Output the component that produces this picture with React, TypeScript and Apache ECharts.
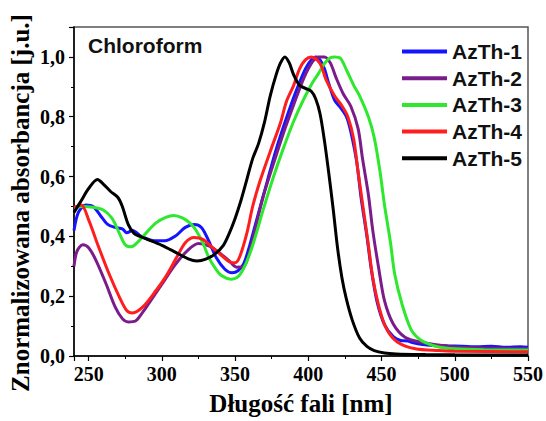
import React, { useEffect, useRef } from "react";
import * as echarts from "echarts";

const seriesNames = ["AzTh-1", "AzTh-2", "AzTh-3", "AzTh-4", "AzTh-5"];
const seriesColors = ["#1414ff", "#7b1c8c", "#2ee82e", "#ff1e1e", "#000000"];

const xTicks = [250, 300, 350, 400, 450, 500, 550];
const yTicks = [0, 0.2, 0.4, 0.6, 0.8, 1.0];

const azth1: number[][] = [
  [240, 0.42], [243, 0.48], [248, 0.505], [253, 0.5], [258, 0.47], [263, 0.44], [268, 0.43],
  [273, 0.425], [276, 0.412], [280, 0.42], [286, 0.4], [295, 0.385], [302, 0.385], [309, 0.4],
  [316, 0.43], [322, 0.44], [327, 0.43], [332, 0.385], [337, 0.33], [343, 0.29], [348, 0.278],
  [352, 0.285], [356, 0.31], [360, 0.37], [365, 0.46], [372, 0.585], [378, 0.69], [385, 0.795],
  [392, 0.89], [398, 0.96], [402, 0.99], [405, 1.0], [408, 0.99], [411, 0.96], [414, 0.91],
  [418, 0.855], [422, 0.83], [426, 0.8], [429, 0.75], [433, 0.65], [436, 0.53], [440, 0.4],
  [443, 0.29], [447, 0.18], [452, 0.105], [458, 0.065], [463, 0.052], [468, 0.05], [471, 0.045],
  [478, 0.038], [485, 0.035], [495, 0.034], [505, 0.033], [515, 0.031], [525, 0.033],
  [535, 0.029], [545, 0.031], [550, 0.029],
];

const azth2: number[][] = [
  [240, 0.3], [242, 0.35], [246, 0.372], [250, 0.362], [255, 0.32], [262, 0.24], [268, 0.165],
  [273, 0.125], [277, 0.114], [282, 0.117], [286, 0.14], [291, 0.175], [300, 0.24], [309, 0.305],
  [318, 0.355], [325, 0.376], [332, 0.368], [339, 0.346], [346, 0.318], [351, 0.297], [356, 0.3],
  [360, 0.35], [364, 0.43], [369, 0.53], [376, 0.64], [383, 0.745], [390, 0.84], [397, 0.93],
  [403, 0.985], [407, 1.0], [411, 1.0], [415, 0.98], [419, 0.93], [424, 0.875], [429, 0.835],
  [434, 0.76], [437, 0.66], [441, 0.54], [444, 0.42], [448, 0.295], [452, 0.185], [458, 0.107],
  [466, 0.063], [477, 0.046], [490, 0.036], [500, 0.03], [520, 0.027], [550, 0.024],
];

const azth3: number[][] = [
  [240, 0.495], [246, 0.5], [253, 0.497], [260, 0.488], [266, 0.46], [271, 0.41], [275, 0.372],
  [279, 0.365], [283, 0.378], [289, 0.41], [296, 0.445], [303, 0.464], [308, 0.47], [314, 0.462],
  [319, 0.445], [323, 0.423], [328, 0.378], [332, 0.33], [337, 0.29], [341, 0.268], [347, 0.257],
  [352, 0.265], [357, 0.305], [362, 0.37], [369, 0.486], [376, 0.596], [383, 0.695], [390, 0.785],
  [397, 0.86], [403, 0.915], [407, 0.945], [411, 0.978], [415, 0.997], [418, 1.0], [422, 0.995],
  [426, 0.957], [431, 0.905], [435, 0.87], [441, 0.8], [445, 0.73], [449, 0.615], [452, 0.505],
  [456, 0.383], [459, 0.273], [464, 0.173], [470, 0.09], [475, 0.06], [480, 0.045], [489, 0.03],
  [500, 0.024], [520, 0.021], [550, 0.02],
];

const azth4: number[][] = [
  [240, 0.497], [245, 0.505], [250, 0.455], [257, 0.362], [264, 0.274], [271, 0.197],
  [276, 0.152], [280, 0.144], [287, 0.164], [296, 0.219], [303, 0.268], [310, 0.329],
  [316, 0.379], [322, 0.396], [328, 0.39], [334, 0.365], [341, 0.335], [347, 0.313], [350, 0.312],
  [353, 0.33], [358, 0.41], [362, 0.5], [367, 0.585], [374, 0.684], [381, 0.78], [385, 0.85],
  [390, 0.905], [394, 0.96], [398, 0.99], [402, 1.0], [406, 0.99], [409, 0.968], [412, 0.925],
  [418, 0.869], [423, 0.836], [427, 0.8], [431, 0.725], [434, 0.615], [437.5, 0.493],
  [441, 0.372], [444, 0.262], [449, 0.151], [454, 0.085], [461, 0.046], [473, 0.024],
  [489, 0.018], [500, 0.016], [550, 0.014],
];

const azth5: number[][] = [
  [240, 0.48], [245, 0.52], [250, 0.56], [256, 0.59], [260, 0.575], [265, 0.55], [270, 0.53],
  [273, 0.5], [277, 0.44], [281, 0.41], [285, 0.4], [290, 0.39], [300, 0.37], [310, 0.345],
  [318, 0.325], [324, 0.318], [330, 0.324], [336, 0.34], [342, 0.37], [346, 0.41], [350, 0.46],
  [354, 0.52], [358, 0.59], [362, 0.66], [366, 0.71], [370, 0.78], [374, 0.87], [378, 0.94],
  [381, 0.98], [384, 1.0], [387, 0.98], [390, 0.94], [394, 0.905], [398, 0.895], [402, 0.885],
  [405, 0.86], [408, 0.81], [411, 0.72], [414, 0.61], [417, 0.49], [420, 0.36], [423, 0.26],
  [426, 0.19], [430, 0.12], [435, 0.06], [440, 0.032], [445, 0.018], [452, 0.01], [460, 0.007],
  [480, 0.005], [500, 0.004], [550, 0.003],
];

const seriesData = [azth1, azth2, azth3, azth4, azth5];

export default function App() {
  const ref = useRef<HTMLDivElement>(null);
  useEffect(() => {
    if (!ref.current) return;
    const chart = echarts.init(ref.current, undefined, { renderer: "svg" });
    const serif = "Liberation Serif, Times New Roman, serif";
    const sans = "Liberation Sans, Arial, sans-serif";
    const fmt = (v: number) => v.toFixed(1).replace(".", ",");
    chart.setOption({
      animation: false,
      backgroundColor: "#ffffff",
      grid: {
        left: 74, right: 18, top: 27, bottom: 62,
        show: true, borderColor: "#555555", borderWidth: 1.5,
      },
      xAxis: {
        type: "value",
        min: 240,
        max: 550,
        splitNumber: 6,
        name: "Długość fali [nm]",
        nameLocation: "middle",
        nameGap: 35,
        nameTextStyle: { fontFamily: serif, fontWeight: "bold", fontSize: 25, color: "#000" },
        axisLine: { show: true, lineStyle: { color: "#000", width: 1.5 } },
        axisTick: { show: true, inside: false, length: 5, lineStyle: { color: "#000", width: 1.2 } },
        minorTick: { show: true, splitNumber: 2, length: 3, lineStyle: { color: "#000", width: 1 } },
        splitLine: { show: false },
        axisLabel: {
          showMinLabel: false,
          fontFamily: serif, fontWeight: "bold", fontSize: 20, color: "#000", margin: 8,
          formatter: (v: number) => (xTicks.includes(v) ? String(v) : ""),
        },
      },
      yAxis: {
        type: "value",
        min: 0,
        max: 1.1,
        interval: 0.2,
        axisLine: { show: true, lineStyle: { color: "#000", width: 1.5 } },
        axisTick: { show: true, inside: false, length: 5, lineStyle: { color: "#000", width: 1.2 } },
        minorTick: { show: true, splitNumber: 2, length: 3, lineStyle: { color: "#000", width: 1 } },
        splitLine: { show: false },
        axisLabel: {
          showMaxLabel: false,
          fontFamily: serif, fontWeight: "bold", fontSize: 20, color: "#000", margin: 9,
          formatter: (v: number) => (yTicks.some((t) => Math.abs(t - v) < 1e-6) ? fmt(v) : ""),
        },
      },
      legend: {
        data: seriesNames,
        orient: "vertical",
        left: 397,
        top: 36,
        icon: "rect",
        itemWidth: 45,
        itemHeight: 4,
        itemGap: 5.7,
        textStyle: { fontFamily: sans, fontWeight: "bold", fontSize: 21, color: "#111", lineHeight: 21 },
      },
      graphic: [
        {
          type: "text",
          left: 88,
          top: 35,
          style: { text: "Chloroform", font: `bold 21px ${sans}`, fill: "#111" },
        },
        {
          type: "text",
          x: 20,
          y: 203,
          rotation: Math.PI / 2,
          style: {
            text: "Znormalizowana absorbancja [j.u.]",
            font: `bold 25px ${serif}`,
            fill: "#000",
            align: "center",
            verticalAlign: "middle",
          },
        },
      ],
      series: seriesNames.map((name, i) => ({
        name,
        type: "line",
        data: seriesData[i],
        showSymbol: false,
        smooth: 0.3,
        lineStyle: { color: seriesColors[i], width: 3 },
        itemStyle: { color: seriesColors[i] },
        z: 2 + i,
      })),
    });
    return () => chart.dispose();
  }, []);
  return (
    <div
      ref={ref}
      style={{ position: "fixed", left: 0, top: 0, width: 546, height: 421, background: "#fff" }}
    />
  );
}
